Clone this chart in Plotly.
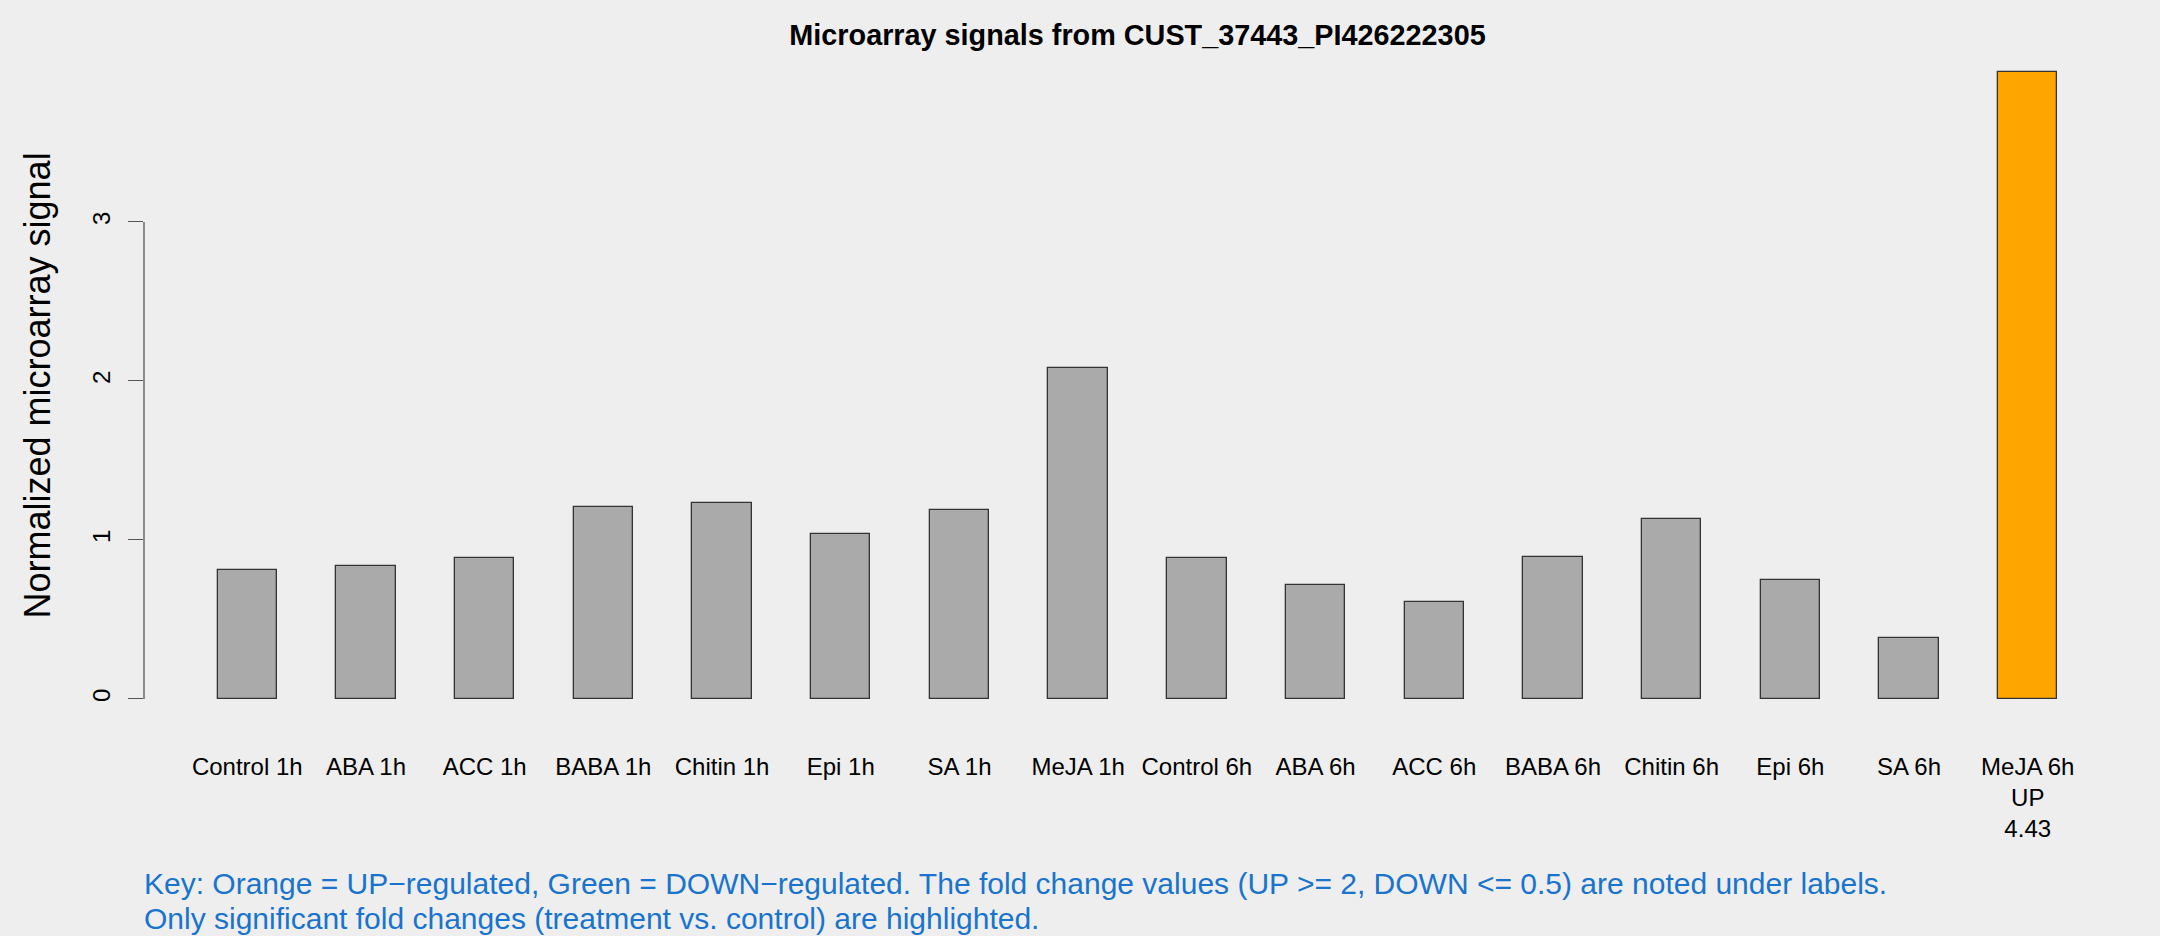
import plotly.graph_objects as go

categories = ["Control 1h", "ABA 1h", "ACC 1h", "BABA 1h", "Chitin 1h", "Epi 1h", "SA 1h", "MeJA 1h",
              "Control 6h", "ABA 6h", "ACC 6h", "BABA 6h", "Chitin 6h", "Epi 6h", "SA 6h", "MeJA 6h"]
signal = [0.813, 0.834, 0.884, 1.207, 1.234, 1.040, 1.190, 2.082,
          0.888, 0.718, 0.608, 0.892, 1.130, 0.749, 0.381, 3.943]
regulation = ["", "", "", "", "", "", "", "", "", "", "", "", "", "", "", "UP"]
fold_change = [None] * 15 + [4.43]
y_ticks = [0, 1, 2, 3]

title_text = "Microarray signals from CUST_37443_PI426222305"
y_title = "Normalized microarray signal"
key_lines = [
    "Key: Orange = UP\u2212regulated, Green = DOWN\u2212regulated. The fold change values (UP >= 2, DOWN <= 0.5) are noted under labels.",
    "Only significant fold changes (treatment vs. control) are highlighted.",
]

color_map = {"UP": "#FFA500", "DOWN": "#00CD00", "": "#AAAAAA"}
bar_colors = [color_map[r] for r in regulation]
tick_text = []
for c, r, f in zip(categories, regulation, fold_change):
    if r:
        tick_text.append(f"{c}<br>{r}<br>{f:.2f}")
    else:
        tick_text.append(c)

W, H = 2160, 936
L, R, T, B = 144, 29, 46.6, 211.9
plot_w = W - L - R
plot_h = H - T - B

FONT = "Liberation Sans, Arial, Helvetica, sans-serif"

fig = go.Figure()
fig.add_trace(go.Bar(
    x=categories, y=signal, width=0.5,
    marker=dict(color=bar_colors, line=dict(color="#333333", width=1.3)),
    showlegend=False, hoverinfo="x+y",
))

ymax = max(signal)
pad = 0.04 * ymax

fig.update_layout(
    width=W, height=H, template="none",
    paper_bgcolor="#EEEEEE", plot_bgcolor="#EEEEEE",
    margin=dict(l=L, r=R, t=T, b=B, pad=0, autoexpand=False),
    font=dict(family=FONT, size=24, color="black"),
    title=dict(text=title_text, x=0.5, xref="paper", xanchor="center",
               y=1 - 35 / H, yref="container", yanchor="middle",
               font=dict(family=FONT, size=28.8, color="black", weight="bold")),
    xaxis=dict(type="category", categoryorder="array", categoryarray=categories,
               range=[-0.87, len(categories) - 1 + 0.87],
               tickmode="array", tickvals=categories, ticktext=tick_text,
               showline=False, showgrid=False, zeroline=False, ticks="",
               tickfont=dict(size=24, color="black"), automargin=False,
               ticklabelstandoff=26),
    yaxis=dict(range=[-pad, ymax + pad], tickmode="array", tickvals=y_ticks,
               ticktext=[str(v) for v in y_ticks],
               showline=False, showgrid=False, zeroline=False,
               ticks="outside", ticklen=15, tickwidth=1.3, tickcolor="#555555",
               tickangle=-90, tickfont=dict(size=24, color="black"),
               automargin=False, ticklabelstandoff=8),
    bargap=0,
)

# y axis line spanning only the tick range (R style)
fig.add_shape(type="line", xref="paper", yref="y", x0=0, x1=0,
              y0=y_ticks[0], y1=y_ticks[-1], line=dict(color="#555555", width=1.3))

# y axis title
fig.add_annotation(text=y_title, textangle=-90, xref="paper", yref="paper",
                   x=(37 - L) / plot_w, y=0.5, xanchor="center", yanchor="middle",
                   showarrow=False, font=dict(family=FONT, size=36, color="black"))

# key text lines
key_baselines = [894.3, 930.0]
for line, base in zip(key_lines, key_baselines):
    yc = base - 0.36 * 30
    fig.add_annotation(text=line, xref="paper", yref="paper",
                       x=(142 - L) / plot_w, y=(H - B - yc) / plot_h,
                       xanchor="left", yanchor="middle", showarrow=False,
                       font=dict(family=FONT, size=30, color="#1874CD"))

fig.write_html("out.html", config={"displayModeBar": False},
               post_script="document.body.style.margin='0';document.body.style.background='#EEEEEE';")
